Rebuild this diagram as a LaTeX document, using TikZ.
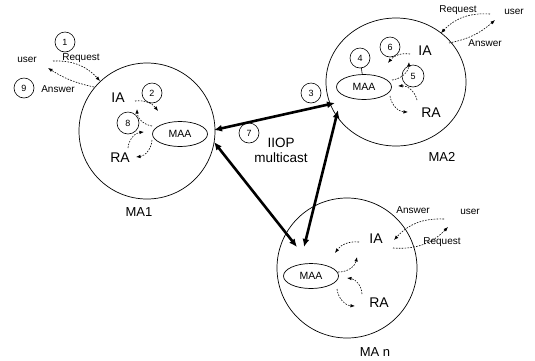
\documentclass[tikz,border=0pt]{standalone}
\usepackage{fontspec}
\setmainfont{Liberation Sans}
\usetikzlibrary{shapes.geometric,arrows.meta}
\begin{document}
\begin{tikzpicture}[x=1pt,y=-1pt,
  mabox/.style={draw,circle,line width=0.7pt,inner sep=0},
  maa/.style={draw,ellipse,line width=0.7pt,minimum width=55pt,minimum height=25pt,inner sep=0,font=\fontsize{10.5}{10.5}\selectfont},
  num/.style={draw,circle,line width=0.6pt,minimum size=20pt,inner sep=0,font=\fontsize{9}{9}\selectfont},
  agent/.style={font=\fontsize{14}{14}\selectfont,inner sep=0},
  smalltxt/.style={font=\fontsize{10}{10}\selectfont,inner sep=0},
  malabel/.style={font=\fontsize{13}{13}\selectfont,inner sep=0},
  msg/.style={line width=0.6pt,dash pattern=on 1.6pt off 1.3pt,-{Latex[length=4.5pt,width=3.5pt]}},
  iiop/.style={line width=2.6pt,{Latex[length=8pt,width=7pt]}-{Latex[length=8pt,width=7pt]}}
]
\useasboundingbox (0,0) rectangle (535,360);

% ---------- MA1 ----------
\node[mabox,minimum size=136pt] (ma1) at (147,131) {};
\node[maa] (maa1) at (180,134) {MAA};
\node[agent] (ia1) at (118,98) {IA};
\node[agent] (ra1) at (120,158) {RA};
\node[num] (n2) at (152,93) {2};
\node[num,minimum size=22pt] (n8) at (128,123) {8};
\node[malabel] (lab1) at (139,212) {MA1};
\node[smalltxt] (u1) at (27,60) {user};
\node[smalltxt] (rq1) at (81,58) {Request};
\node[smalltxt] (an1) at (58,89) {Answer};
\node[num] (n1) at (65,42) {1};
\node[num] (n9) at (24,88) {9};

\coordinate (a1s) at (135,101); \coordinate (a1e) at (158,111);
\coordinate (b1s) at (152,126); \coordinate (b1e) at (137,109);
\coordinate (c1s) at (128,148); \coordinate (c1e) at (144,132);
\coordinate (d1s) at (152,140); \coordinate (d1e) at (136,157);
\coordinate (r1s) at (53,61);   \coordinate (r1e) at (100,81);
\coordinate (s1s) at (94,87);   \coordinate (s1e) at (48,68);
\draw[msg] (a1s) to[bend left=30] (a1e);
\draw[msg] (b1s) to[bend left=40] (b1e);
\draw[msg] (c1s) to[bend left=40] (c1e);
\draw[msg] (d1s) to[bend left=40] (d1e);
\draw[msg] (r1s) to[bend left=25] (r1e);
\draw[msg] (s1s) to[bend left=10] (s1e);

% ---------- MA2 ----------
\node[draw,ellipse,line width=0.7pt,minimum width=140pt,minimum height=128pt,inner sep=0] (ma2) at (396,82) {};
\node[maa] (maa2) at (364,87) {MAA};
\node[agent] (ia2) at (425,51) {IA};
\node[agent] (ra2) at (431,113) {RA};
\node[num] (n4) at (360,58) {4};
\node[num] (n6) at (390,47) {6};
\node[num,minimum size=22pt] (n5) at (413,76) {5};
\node[num] (n3) at (311,93) {3};
\node[malabel] (lab2) at (442,157) {MA2};
\node[smalltxt] (rq2) at (458,10) {Request};
\node[smalltxt] (u2) at (514,12) {user};
\node[smalltxt] (an2) at (485,43) {Answer};
\draw[line width=0.6pt] (n4) -- (maa2);

\coordinate (a2s) at (410,54); \coordinate (a2e) at (388,63);
\coordinate (b2s) at (392,80); \coordinate (b2e) at (409,62);
\coordinate (c2s) at (417,100); \coordinate (c2e) at (398,86);
\coordinate (d2s) at (390,96); \coordinate (d2e) at (408,112);
\coordinate (r2s) at (490,14); \coordinate (r2e) at (441,33);
\coordinate (s2s) at (449,43); \coordinate (s2e) at (495,20);
\draw[msg] (a2s) to[bend right=30] (a2e);
\draw[msg] (b2s) to[bend right=40] (b2e);
\draw[msg] (c2s) to[bend right=40] (c2e);
\draw[msg] (d2s) to[bend right=40] (d2e);
\draw[msg] (r2s) to[bend right=25] (r2e);
\draw[msg] (s2s) to[bend right=15] (s2e);

% ---------- MA n ----------
\node[mabox,minimum size=140pt] (man) at (347,268) {};
\node[maa] (maan) at (311,276) {MAA};
\node[agent] (ian) at (376,239) {IA};
\node[agent] (ran) at (379,303) {RA};
\node[malabel] (labn) at (375,352) {MA n};
\node[smalltxt] (ann) at (413,210) {Answer};
\node[smalltxt] (un) at (470,212) {user};
\node[smalltxt] (rqn) at (442,242) {Request};

\coordinate (ans) at (359,242); \coordinate (ane) at (335,253);
\coordinate (bns) at (338,272); \coordinate (bne) at (357,257);
\coordinate (cns) at (362,294); \coordinate (cne) at (347,278);
\coordinate (dns) at (337,289); \coordinate (dne) at (355,306);
\coordinate (sns) at (444,219); \coordinate (sne) at (394,240);
\coordinate (rns) at (393,248); \coordinate (rne) at (448,227);
\draw[msg] (ans) to[bend right=30] (ane);
\draw[msg] (bns) to[bend right=40] (bne);
\draw[msg] (cns) to[bend right=40] (cne);
\draw[msg] (dns) to[bend right=40] (dne);
\draw[msg] (sns) to[bend right=25] (sne);
\draw[msg] (rns) to[bend right=25] (rne);

% ---------- IIOP multicast ----------
\coordinate (p1a) at (214,130); \coordinate (p1b) at (335,103);
\coordinate (p2a) at (214,142); \coordinate (p2b) at (297,247);
\coordinate (p3a) at (338,110); \coordinate (p3b) at (304,247);
\draw[iiop] (p1a) -- (p1b);
\draw[iiop] (p2a) -- (p2b);
\draw[iiop] (p3a) -- (p3b);
\node[num] (n7) at (249,133) {7};
\node[font=\fontsize{13.5}{15}\selectfont,align=center,inner sep=0] (iiopl) at (281,150) {IIOP\\multicast};
\end{tikzpicture}
\end{document}
